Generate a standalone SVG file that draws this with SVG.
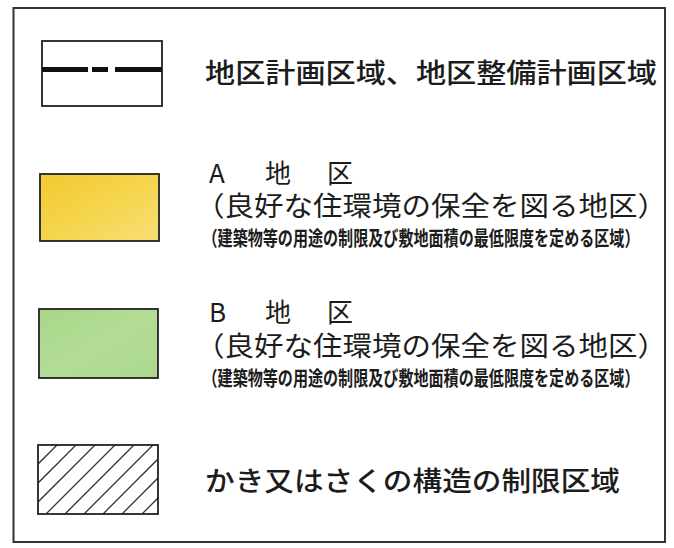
<svg xmlns="http://www.w3.org/2000/svg" width="674" height="548" viewBox="0 0 674 548">
<style>
.t{font-family:"Noto Sans CJK JP","Noto Sans CJK SC",sans-serif;fill:#1c1c1c}
.big{font-size:27px;font-weight:500}
.mid{font-size:27px;font-weight:400}
.hd{font-size:26px;font-weight:400}
.sm{font-size:20px;font-weight:700}
.sw{fill:none;stroke:#222;stroke-width:1.8}
.hatch{stroke:#333;stroke-width:1.3}
</style>
<defs>
<linearGradient id="gy" x1="0" y1="0" x2="1" y2="1">
<stop offset="0" stop-color="#f2c930"/>
<stop offset="0.5" stop-color="#f5d54c"/>
<stop offset="1" stop-color="#f7df75"/>
</linearGradient>
<linearGradient id="gg" x1="0" y1="0" x2="1" y2="1">
<stop offset="0" stop-color="#a8d788"/>
<stop offset="0.5" stop-color="#b3dc96"/>
<stop offset="1" stop-color="#acd88d"/>
</linearGradient>
<clipPath id="hc"><rect x="38" y="445" width="120" height="69"/></clipPath>
</defs>
<rect width="674" height="548" fill="#ffffff"/>
<rect id="frame" x="13.5" y="8" width="651.5" height="534" fill="none" stroke="#333" stroke-width="2"/>

<g id="item-plan-area">
<rect class="sw" x="42" y="41" width="120" height="65" fill="#fff"/>
<g stroke="#111" stroke-width="5">
<line x1="42" y1="69.5" x2="88" y2="69.5"/>
<line x1="92" y1="69.5" x2="108" y2="69.5"/>
<line x1="115" y1="69.5" x2="162" y2="69.5"/>
</g>
<text class="t big" x="205" y="83" textLength="452" lengthAdjust="spacingAndGlyphs">地区計画区域、地区整備計画区域</text>
</g>

<g id="item-a">
<rect x="40" y="174" width="119" height="67" fill="url(#gy)" stroke="#222" stroke-width="1.8"/>
<text class="t hd" y="183"><tspan x="209">A</tspan><tspan x="265">地</tspan><tspan x="327">区</tspan></text>
<text class="t mid" x="195" y="216" textLength="472" lengthAdjust="spacingAndGlyphs">（良好な住環境の保全を図る地区）</text>
<text class="t sm" x="202.5" y="246" textLength="437" lengthAdjust="spacingAndGlyphs">（建築物等の用途の制限及び敷地面積の最低限度を定める区域）</text>
</g>

<g id="item-b">
<rect x="39" y="309" width="119" height="69" fill="url(#gg)" stroke="#222" stroke-width="1.8"/>
<text class="t hd" y="322"><tspan x="209">B</tspan><tspan x="265">地</tspan><tspan x="327">区</tspan></text>
<text class="t mid" x="195" y="356" textLength="472" lengthAdjust="spacingAndGlyphs">（良好な住環境の保全を図る地区）</text>
<text class="t sm" x="202.5" y="386" textLength="437" lengthAdjust="spacingAndGlyphs">（建築物等の用途の制限及び敷地面積の最低限度を定める区域）</text>
</g>

<g id="item-fence">
<rect x="38" y="445" width="120" height="69" fill="#fff"/>
<g class="hatch" clip-path="url(#hc)">
<line x1="57" y1="445" x2="-12" y2="514"/>
<line x1="76" y1="445" x2="7" y2="514"/>
<line x1="95" y1="445" x2="26" y2="514"/>
<line x1="115" y1="445" x2="46" y2="514"/>
<line x1="134" y1="445" x2="65" y2="514"/>
<line x1="153" y1="445" x2="84" y2="514"/>
<line x1="172" y1="445" x2="103" y2="514"/>
<line x1="191" y1="445" x2="122" y2="514"/>
<line x1="211" y1="445" x2="142" y2="514"/>
<line x1="230" y1="445" x2="161" y2="514"/>
</g>
<rect class="sw" x="38" y="445" width="120" height="69"/>
<text class="t big" x="205" y="491" textLength="415" lengthAdjust="spacingAndGlyphs">かき又はさくの構造の制限区域</text>
</g>
</svg>
